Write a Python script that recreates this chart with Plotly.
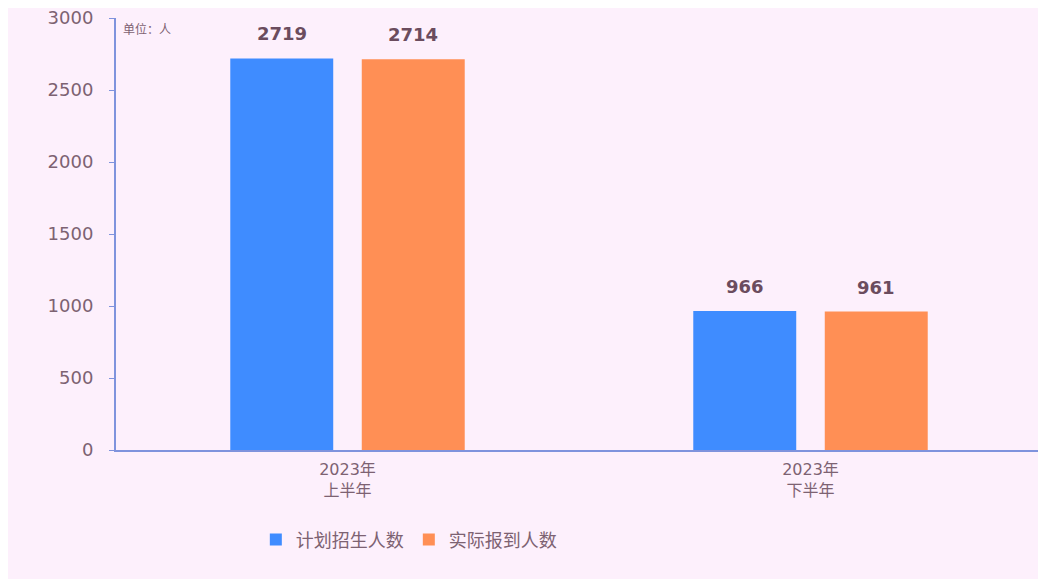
import plotly.graph_objects as go

categories = ["2023年<br>上半年", "2023年<br>下半年"]
series_names = ["计划招生人数", "实际报到人数"]
series_a = [2719, 966]
series_b = [2714, 961]
colors = ["#3f8cff", "#ff8f55"]
y_ticks = [0, 500, 1000, 1500, 2000, 2500, 3000]
unit_label = "单位：人"

fig = go.Figure()
for name, vals, col in zip(series_names, [series_a, series_b], colors):
    fig.add_trace(go.Bar(x=categories, y=vals, name=name, marker=dict(color=col, line=dict(width=0))))

# value labels above bars
shifts = [-65.75, 65.75]
for vals, xs in zip([series_a, series_b], shifts):
    for c, v in zip(categories, vals):
        fig.add_annotation(x=c, y=v, text=f"<b>{v}</b>", showarrow=False, xref="x", yref="y",
                           xshift=xs, yanchor="bottom", yshift=12,
                           font=dict(size=18, color="#6b4c5e", family="DejaVu Sans"))

fig.add_annotation(x=0.005, y=1.0, xref="paper", yref="paper", text=unit_label, showarrow=False,
                   xanchor="left", yanchor="top",
                   font=dict(size=12, color="#7d6272", family="Noto Sans CJK SC"))

bg = "#fdf0fc"
fig.update_layout(
    width=1046, height=579,
    paper_bgcolor=bg, plot_bgcolor=bg,
    margin=dict(l=108, r=12, t=10, b=137, autoexpand=False),
    barmode="group", bargap=0.432, bargroupgap=0.217,
    font=dict(family="DejaVu Sans, Noto Sans CJK SC", size=18, color="#7d6272"),
    showlegend=True,
    legend=dict(orientation="h", x=0.151, xanchor="left", y=-0.208, yanchor="middle",
                font=dict(size=18, color="#7d6272", family="Noto Sans CJK SC"), itemwidth=30),
    xaxis=dict(showline=True, linecolor="#7f93dd", linewidth=2, ticks="", showgrid=False,
               ticklabelstandoff=4, automargin=False,
               tickfont=dict(family="DejaVu Sans, Noto Sans CJK SC", size=16, color="#7d6272")),
    yaxis=dict(range=[0, 3000], tickvals=y_ticks, showline=True, linecolor="#7f93dd", linewidth=2,
               ticks="outside", tickcolor="#7f93dd", ticklen=5, showgrid=False, zeroline=False,
               ticklabelstandoff=12, ticklabeloverflow="allow", automargin=False,
               tickfont=dict(size=18, color="#7d6272")),
)

fig.write_html("out.html")
